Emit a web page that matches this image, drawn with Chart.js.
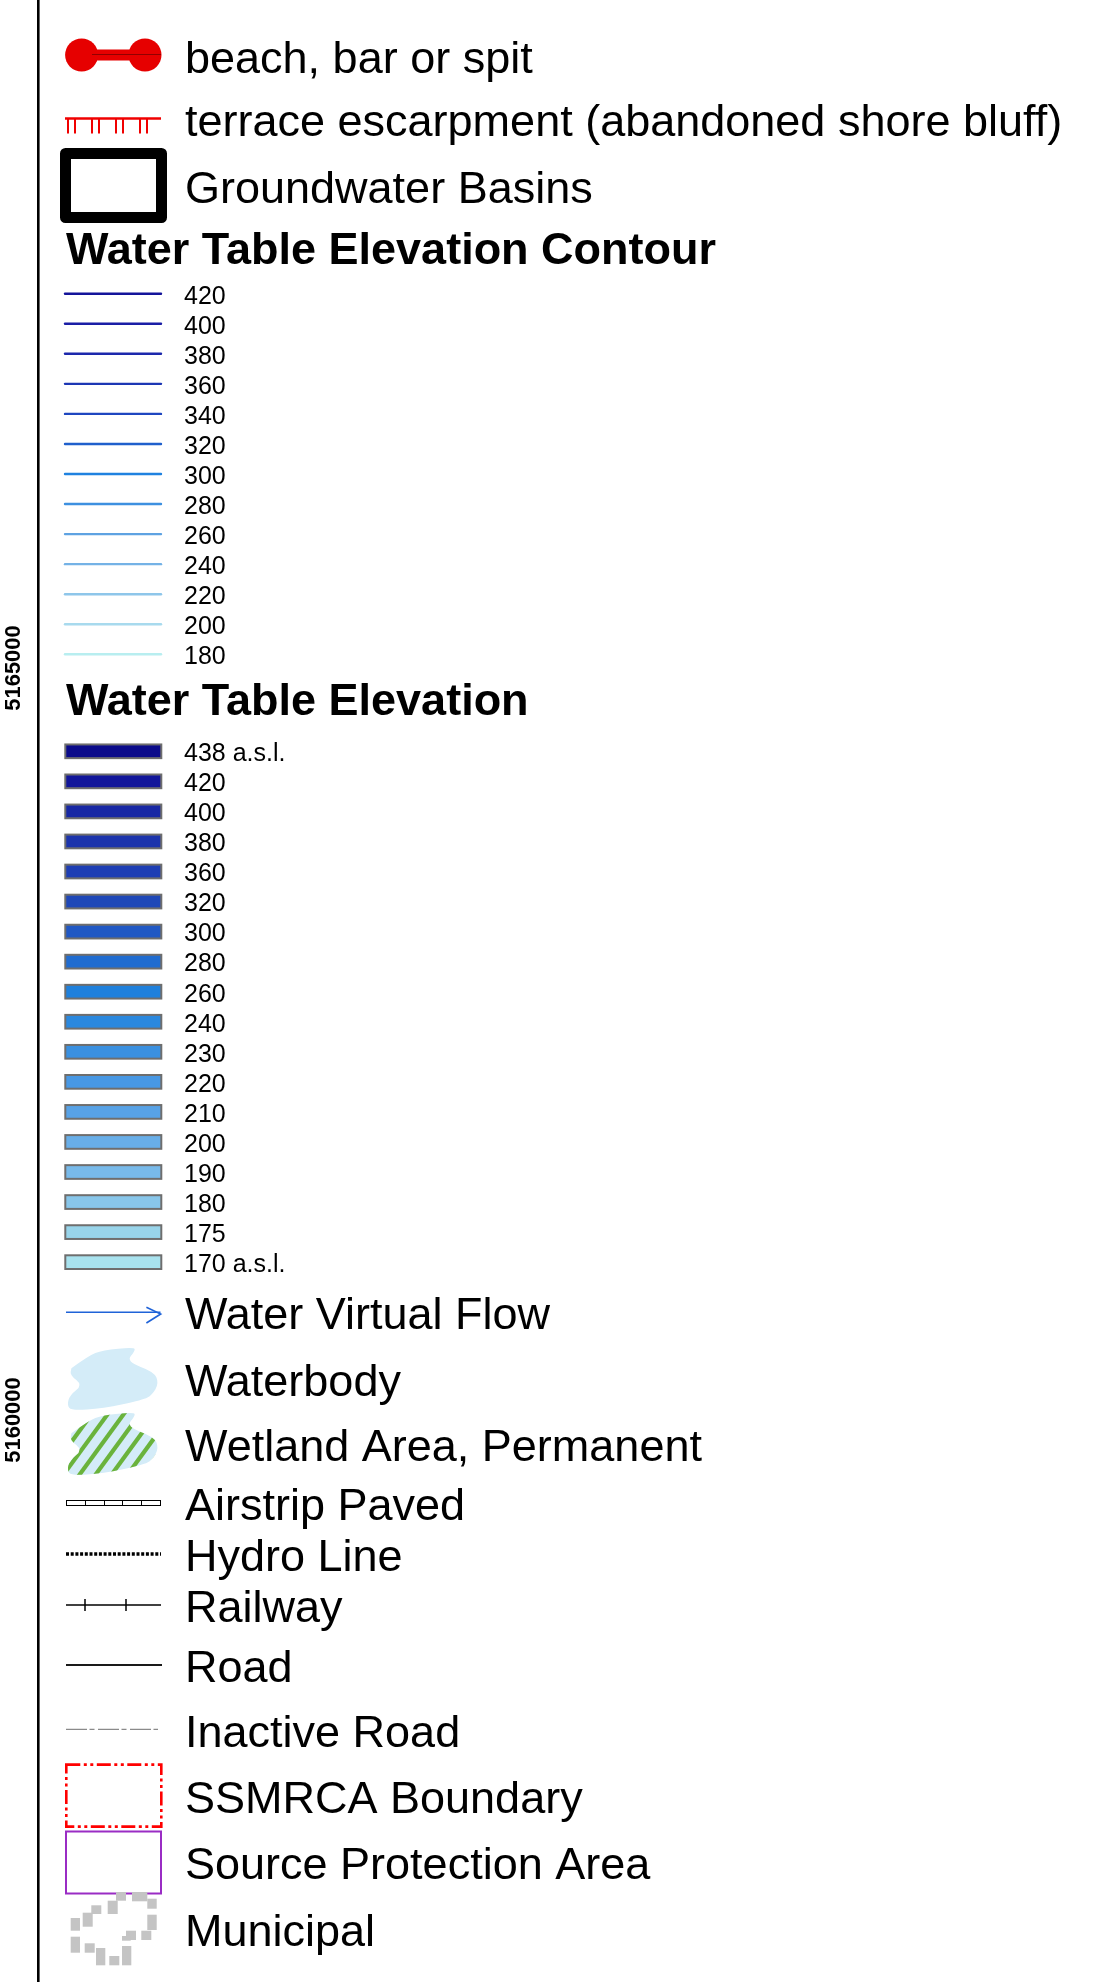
<!DOCTYPE html>
<html>
<head>
<meta charset="utf-8">
<title>Water Table Legend</title>
<style>
  html, body { margin: 0; padding: 0; background: #fff; }
  #legendChart { display: block; }
</style>
<script src="https://cdn.jsdelivr.net/npm/chart.js@4.4.0/dist/chart.umd.min.js"></script>
</head>
<body>
<canvas id="legendChart" width="1108" height="1982" style="width:1108px;height:1982px"></canvas>
<script>
// northing ticks on the left map frame
const northingTicks = [5160000, 5165000];

const topItems = ['beach, bar or spit', 'terrace escarpment (abandoned shore bluff)', 'Groundwater Basins'];

const contourTitle = 'Water Table Elevation Contour';
const contourLevels = ['420', '400', '380', '360', '340', '320', '300', '280', '260', '240', '220', '200', '180'];
const contourColors = ['#14149a', '#1a1ea6', '#1c28ac', '#1c36b4', '#1e46c0', '#1f5fcc', '#1f82e0', '#3d90e0',
                       '#5ea2e2', '#74b2e6', '#8ec6ea', '#a8daee', '#b8eef0'];

const elevationTitle = 'Water Table Elevation';
const elevationLevels = ['438 a.s.l.', '420', '400', '380', '360', '320', '300', '280', '260', '240', '230',
                         '220', '210', '200', '190', '180', '175', '170 a.s.l.'];
const elevationColors = ['#0a0a8a', '#12169a', '#1828a4', '#1c34ac', '#1e3eb4', '#1f48b8', '#2058c4', '#206cd0',
                         '#1f80dc', '#2a88de', '#3a90e0', '#4898e4', '#58a2e6', '#68aee8', '#78baea', '#88c6ea',
                         '#98d4ea', '#a8e2ee'];

const bottomItems = ['Water Virtual Flow', 'Waterbody', 'Wetland Area, Permanent', 'Airstrip Paved', 'Hydro Line',
                     'Railway', 'Road', 'Inactive Road', 'SSMRCA Boundary', 'Source Protection Area', 'Municipal'];

// layout (pixels)
const L = {
  axisRight: 38,
  tickLabelX: 13.5,
  swX: 65, swW: 96,
  textX: 185,
  topBase: [72.5, 135.5, 202.5],
  contourTitleBase: 263.5,
  contourY0: 293.7,
  elevTitleBase: 715,
  elevY0: 751.3,
  rowStep: 30.05,
  smallOffset: 9.8,
  bottomBase: [1328.5, 1396, 1461, 1520, 1570.5, 1621.7, 1681.7, 1746.5, 1812.5, 1879, 1946]
};
const FONT = '"Liberation Sans", Arial, sans-serif';

function blobPath(ctx, dy) {
  const pts = [[71.4, 1368.3], [88, 1356], [102.7, 1350], [133.9, 1347.3], [135.3, 1350.5], [126.3, 1361.7],
               [154, 1371.7], [158.9, 1383.3], [152, 1395], [142.9, 1400], [102.7, 1408.3], [71.4, 1410.7],
               [67, 1405], [70, 1395], [82.6, 1385], [70, 1375]];
  ctx.beginPath();
  ctx.moveTo(pts[0][0], pts[0][1] + dy);
  for (let i = 1; i < pts.length; i++) {
    const p = pts[i], n = pts[(i + 1) % pts.length];
    ctx.quadraticCurveTo(p[0], p[1] + dy, (p[0] + n[0]) / 2, (p[1] + n[1]) / 2 + dy);
  }
  ctx.closePath();
}

const swatches = {
  beach(ctx) {
    ctx.fillStyle = '#e60000';
    ctx.beginPath(); ctx.arc(81.6, 55, 16.5, 0, Math.PI * 2); ctx.fill();
    ctx.beginPath(); ctx.arc(145, 55, 16.5, 0, Math.PI * 2); ctx.fill();
    ctx.fillRect(81.6, 49.5, 63.4, 11);
    ctx.strokeStyle = 'rgba(110,0,0,0.7)'; ctx.lineWidth = 1;
    ctx.beginPath(); ctx.moveTo(92, 54.5); ctx.lineTo(161, 54.5); ctx.stroke();
  },
  terrace(ctx) {
    ctx.strokeStyle = '#f00000'; ctx.lineWidth = 2.5;
    ctx.beginPath(); ctx.moveTo(65, 118.5); ctx.lineTo(161, 118.5); ctx.stroke();
    ctx.lineWidth = 2;
    [68, 75, 92, 99, 116, 123, 140, 147].forEach(x => {
      ctx.beginPath(); ctx.moveTo(x, 119); ctx.lineTo(x, 133.5); ctx.stroke();
    });
  },
  basin(ctx) {
    ctx.strokeStyle = '#000'; ctx.lineWidth = 11; ctx.lineJoin = 'round';
    ctx.strokeRect(65.5, 153.5, 96, 64);
    ctx.lineJoin = 'miter';
  },
  flow(ctx) {
    ctx.strokeStyle = '#1f63d8'; ctx.lineWidth = 1.6;
    ctx.beginPath(); ctx.moveTo(66, 1312.3); ctx.lineTo(160.5, 1312.3); ctx.stroke();
    ctx.beginPath(); ctx.moveTo(146.4, 1307.3); ctx.lineTo(160.7, 1314); ctx.lineTo(146.4, 1323); ctx.stroke();
  },
  waterbody(ctx) {
    ctx.fillStyle = '#d4ecf8';
    blobPath(ctx, 0); ctx.fill();
  },
  wetland(ctx) {
    ctx.save();
    ctx.fillStyle = '#d4ecf8';
    blobPath(ctx, 65); ctx.fill();
    ctx.clip();
    ctx.strokeStyle = '#6ab33c'; ctx.lineWidth = 4.2;
    for (let k = -6; k < 10; k++) {
      const x0 = 40 + k * 16;
      ctx.beginPath(); ctx.moveTo(x0, 1485); ctx.lineTo(x0 + 62, 1400); ctx.stroke();
    }
    ctx.restore();
  },
  airstrip(ctx) {
    ctx.strokeStyle = '#000'; ctx.lineWidth = 1;
    ctx.strokeRect(66.5, 1500.5, 94, 5);
    for (let k = 1; k < 5; k++) {
      const x = Math.round(66 + 94 * k / 5) + 0.5;
      ctx.beginPath(); ctx.moveTo(x, 1500.5); ctx.lineTo(x, 1505.5); ctx.stroke();
    }
  },
  hydro(ctx) {
    ctx.strokeStyle = '#000'; ctx.lineWidth = 3.4;
    ctx.setLineDash([3, 1.7]);
    ctx.beginPath(); ctx.moveTo(66, 1554); ctx.lineTo(161, 1554); ctx.stroke();
    ctx.setLineDash([]);
  },
  railway(ctx) {
    ctx.strokeStyle = '#000'; ctx.lineWidth = 1.5;
    ctx.beginPath(); ctx.moveTo(66, 1605); ctx.lineTo(161, 1605); ctx.stroke();
    [85, 126].forEach(x => {
      ctx.beginPath(); ctx.moveTo(x, 1599); ctx.lineTo(x, 1611); ctx.stroke();
    });
  },
  road(ctx) {
    ctx.strokeStyle = '#1a1a1a'; ctx.lineWidth = 2;
    ctx.beginPath(); ctx.moveTo(66, 1665); ctx.lineTo(162, 1665); ctx.stroke();
  },
  inactive(ctx) {
    ctx.strokeStyle = '#8a8a8a'; ctx.lineWidth = 1.3;
    ctx.setLineDash([21, 2.5, 5, 3.5]);
    ctx.beginPath(); ctx.moveTo(66, 1729.3); ctx.lineTo(158, 1729.3); ctx.stroke();
    ctx.setLineDash([]);
  },
  ssmrca(ctx) {
    ctx.strokeStyle = '#ff0000'; ctx.lineWidth = 2.6;
    ctx.setLineDash([14, 3.5, 3, 3.5, 3, 3.5]);
    ctx.strokeRect(66.3, 1764.6, 95, 62);
    ctx.setLineDash([]);
  },
  spa(ctx) {
    ctx.strokeStyle = '#9a2cc4'; ctx.lineWidth = 2;
    ctx.strokeRect(66, 1831.5, 95, 62);
  },
  municipal(ctx) {
    ctx.fillStyle = '#c4c4c4';
    [[116, 1892, 10, 8.7], [132, 1892, 15.3, 9.3], [147.3, 1898.7, 9.4, 10], [107.7, 1900.7, 10, 13.3],
     [91.3, 1905.3, 10, 8.7], [82.7, 1912.7, 10, 14], [70.7, 1918, 9.3, 12.7], [147.3, 1914.7, 9.4, 15.3],
     [126, 1930.7, 10, 9.3], [141.3, 1930.7, 10, 9.3], [122, 1936, 8.7, 4.7], [70.7, 1936.7, 9.3, 16],
     [84.7, 1943.3, 10, 9.4], [96, 1948, 9.3, 17.3], [109.3, 1956, 10, 9.3], [122, 1946, 9.3, 19.3]]
      .forEach(r => ctx.fillRect(r[0], r[1], r[2], r[3]));
  }
};
const topKinds = ['beach', 'terrace', 'basin'];
const bottomKinds = ['flow', 'waterbody', 'wetland', 'airstrip', 'hydro', 'railway', 'road', 'inactive',
                     'ssmrca', 'spa', 'municipal'];

const legendPlugin = {
  id: 'mapLegend',
  afterDraw(chart) {
    const ctx = chart.ctx;
    ctx.save();

    // northing tick labels, placed by the y scale
    const ys = chart.scales.y;
    ctx.fillStyle = '#000';
    ctx.font = 'bold 22px ' + FONT;
    ctx.textAlign = 'center';
    ctx.textBaseline = 'middle';
    ys.ticks.forEach(t => {
      ctx.save();
      ctx.translate(L.tickLabelX, ys.getPixelForValue(t.value));
      ctx.rotate(-Math.PI / 2);
      ctx.fillText(String(t.value), 0, 0);
      ctx.restore();
    });

    ctx.textAlign = 'left';
    ctx.textBaseline = 'alphabetic';

    // top symbols
    topItems.forEach((label, i) => {
      swatches[topKinds[i]](ctx);
      ctx.fillStyle = '#000';
      ctx.font = '45px ' + FONT;
      ctx.fillText(label, L.textX, L.topBase[i]);
    });

    // contours
    ctx.fillStyle = '#000';
    ctx.font = 'bold 45px ' + FONT;
    ctx.fillText(contourTitle, 66, L.contourTitleBase);
    ctx.lineCap = 'round';
    contourLevels.forEach((lv, i) => {
      const y = L.contourY0 + i * L.rowStep;
      ctx.strokeStyle = contourColors[i];
      ctx.lineWidth = 2.4;
      ctx.beginPath(); ctx.moveTo(L.swX, y); ctx.lineTo(L.swX + L.swW, y); ctx.stroke();
      ctx.fillStyle = '#000';
      ctx.font = '25px ' + FONT;
      ctx.fillText(lv, L.textX - 1, y + L.smallOffset);
    });
    ctx.lineCap = 'butt';

    // elevation classes
    ctx.font = 'bold 45px ' + FONT;
    ctx.fillText(elevationTitle, 66, L.elevTitleBase);
    elevationLevels.forEach((lv, i) => {
      const y = L.elevY0 + i * L.rowStep;
      ctx.fillStyle = elevationColors[i];
      ctx.fillRect(L.swX + 0.3, y - 6.85, L.swW, 13.7);
      ctx.strokeStyle = '#6e6e6e';
      ctx.lineWidth = 2;
      ctx.strokeRect(L.swX + 0.3, y - 6.85, L.swW, 13.7);
      ctx.fillStyle = '#000';
      ctx.font = '25px ' + FONT;
      ctx.fillText(lv, L.textX - 1, y + L.smallOffset);
    });

    // bottom symbols
    bottomItems.forEach((label, i) => {
      swatches[bottomKinds[i]](ctx);
      ctx.fillStyle = '#000';
      ctx.font = '45px ' + FONT;
      ctx.fillText(label, L.textX, L.bottomBase[i]);
    });

    ctx.restore();
  }
};

// y range so that the two northing ticks land where the map frame puts them
const pxPerUnit = (1420 - 668) / (northingTicks[1] - northingTicks[0]);
const yMax = northingTicks[1] + 668 / pxPerUnit;
const yMin = northingTicks[0] - (1982 - 1420) / pxPerUnit;

new Chart(document.getElementById('legendChart'), {
  type: 'scatter',
  data: { datasets: [] },
  options: {
    responsive: false,
    devicePixelRatio: 1,
    animation: false,
    layout: { padding: 0 },
    plugins: { legend: { display: false }, tooltip: { enabled: false } },
    scales: {
      x: { type: 'linear', display: false, min: 0, max: 1 },
      y: {
        type: 'linear',
        position: 'left',
        min: yMin,
        max: yMax,
        grid: { display: false },
        border: { display: true, color: '#000', width: 2.6 },
        ticks: { display: false },
        afterBuildTicks: s => { s.ticks = northingTicks.map(v => ({ value: v })); },
        afterFit: s => { s.width = L.axisRight; }
      }
    }
  },
  plugins: [legendPlugin]
});
</script>
</body>
</html>
